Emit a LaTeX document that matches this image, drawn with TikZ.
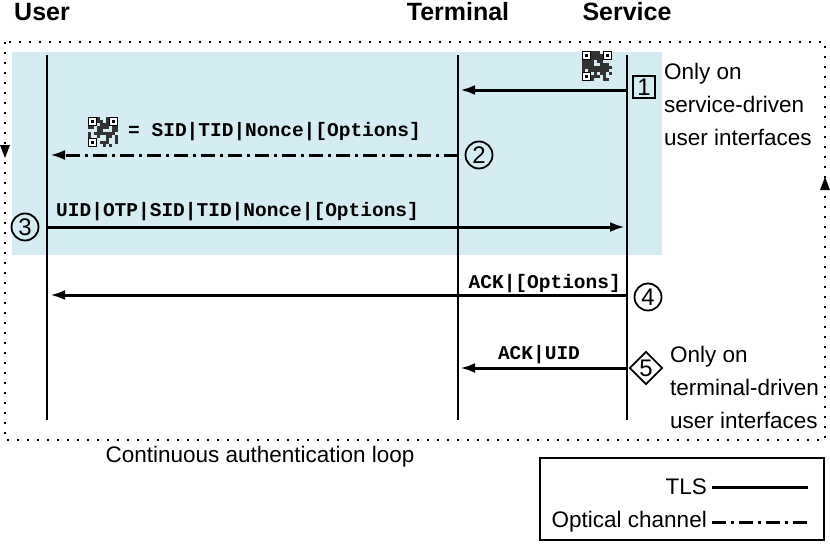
\documentclass[tikz,border=0pt]{standalone}
\usepackage{fontspec}
\setmainfont{Liberation Sans}
\setmonofont{Liberation Mono}
\usetikzlibrary{arrows.meta,shapes.geometric}
\begin{document}
\begin{tikzpicture}[x=1pt,y=-1pt,
  life/.style={line width=1.8pt},
  msg/.style={line width=3pt,-{Latex[length=15pt,width=10pt]}},
  opt/.style={msg,dash pattern=on 14pt off 5pt on 3pt off 5pt},
  head/.style={font=\fontsize{25}{27}\selectfont\bfseries},
  lbl/.style={font=\fontsize{19.5}{21}\selectfont\ttfamily\bfseries},
  note/.style={font=\fontsize{22.5}{33}\selectfont,align=left,anchor=north west,inner sep=0pt},
  circ/.style={draw,circle,line width=1.8pt,inner sep=0pt,minimum size=27pt,font=\fontsize{24}{24}\selectfont},
  qr/.pic={\pgfmathsetseed{#1}
    \foreach \i in {0,...,9}{\foreach \j in {0,...,9}{
      \pgfmathparse{rnd>0.45?1:0}\ifnum\pgfmathresult=1 \fill[black!80] (\i*3,\j*3) rectangle ++(3,3);\fi}}
    \foreach \a/\b in {0/0,21/0,0/21}{\fill[white] (\a,\b) rectangle ++(9,9);\draw[line width=1.2pt] (\a+0.6,\b+0.6) rectangle ++(7.8,7.8);\fill (\a+3,\b+3) rectangle ++(3,3);}}
]
\useasboundingbox (0,0) rectangle (830,546);
\fill[fill={rgb,255:red,213;green,236;blue,242}] (12,52) rectangle (662,255);
\draw[line width=2pt,dash pattern=on 2pt off 8pt] (5,42) rectangle (825,440);
\fill (0,145) -- (10,145) -- (5,158) -- cycle;
\fill (820,190) -- (830,190) -- (825,177) -- cycle;
\node[head] (hu) at (42,12) {User};
\node[head] (ht) at (458,12) {Terminal};
\node[head] (hs) at (627,12) {Service};
\coordinate (u0) at (47,55); \coordinate (u1) at (47,420);
\coordinate (t0) at (458,55); \coordinate (t1) at (458,420);
\coordinate (s0) at (627,55); \coordinate (s1) at (627,420);
\draw[life] (u0)--(u1); \draw[life] (t0)--(t1); \draw[life] (s0)--(s1);
% 1
\pic at (582,51) {qr=3};
\coordinate (a1s) at (627,90); \coordinate (a1e) at (460,90);
\draw[msg] (a1s)--(a1e);
\node[draw,line width=1.8pt,inner sep=0pt,minimum size=22pt,font=\fontsize{24}{24}\selectfont] (n1) at (644,87) {1};
\node[note] (t1n) at (664,63) {Only on\\service-driven\\user interfaces};
% 2
\pic at (88,117) {qr=7};
\node[lbl,anchor=west,inner sep=0pt] (l2) at (128,132) {= SID|TID|Nonce|[Options]};
\coordinate (a2s) at (458,155); \coordinate (a2e) at (50,155);
\draw[opt] (a2s)--(a2e);
\node[circ] (n2) at (479,155) {2};
% 3
\node[circ] (n3) at (25,227) {3};
\node[lbl,anchor=west,inner sep=0pt] (l3) at (56,212) {UID|OTP|SID|TID|Nonce|[Options]};
\coordinate (a3s) at (47,227); \coordinate (a3e) at (625,227);
\draw[msg] (a3s)--(a3e);
% 4
\node[lbl,anchor=east,inner sep=0pt] (l4) at (621,284) {ACK|[Options]};
\coordinate (a4s) at (627,295); \coordinate (a4e) at (50,295);
\draw[msg] (a4s)--(a4e);
\node[circ] (n4) at (648,297) {4};
% 5
\node[lbl,inner sep=0pt] (l5) at (539,355) {ACK|UID};
\coordinate (a5s) at (627,368); \coordinate (a5e) at (460,368);
\draw[msg] (a5s)--(a5e);
\node[draw,diamond,line width=1.8pt,inner sep=0pt,minimum size=33pt,font=\fontsize{24}{24}\selectfont] (n5) at (646,368) {5};
\node[note] (t5n) at (670,346) {Only on\\terminal-driven\\user interfaces};
\node[font=\fontsize{22.5}{24}\selectfont] (loop) at (260,457) {Continuous authentication loop};
% legend
\node[draw,line width=2.5pt,minimum width=284pt,minimum height=82pt] (leg) at (682,499) {};
\node[font=\fontsize{22.5}{24}\selectfont,anchor=east,inner sep=0pt] (lt) at (707,487) {TLS};
\node[font=\fontsize{22.5}{24}\selectfont,anchor=east,inner sep=0pt] (lo) at (707,522) {Optical channel};
\coordinate (g1a) at (712,487); \coordinate (g1b) at (808,487);
\coordinate (g2a) at (712,522); \coordinate (g2b) at (808,522);
\draw[line width=3pt] (g1a)--(g1b);
\draw[line width=3pt,dash pattern=on 14pt off 5pt on 3pt off 5pt] (g2a)--(g2b);
\end{tikzpicture}
\end{document}
